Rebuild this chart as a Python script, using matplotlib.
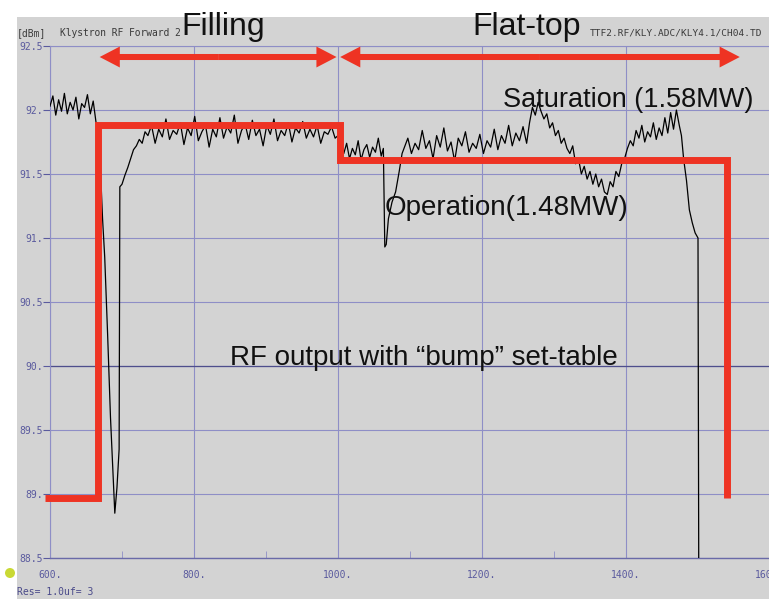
import numpy as np
import matplotlib
matplotlib.use('Agg')
import matplotlib.pyplot as plt
from matplotlib.patches import Rectangle, Ellipse, FancyArrowPatch

# ---------------------------------------------------------------
# trace (x in us, y in dBm)
pre_x = [600, 604, 608, 612, 616, 620, 624, 628, 632, 636, 640, 644, 648, 652, 656, 660, 664]
pre_y = [92.03, 92.11, 91.96, 92.08, 91.99, 92.13, 91.97, 92.06, 92.00, 92.10, 91.93, 92.05,
         92.02, 92.12, 91.97, 92.07, 91.90]

drop_x = [667, 670, 673, 676, 680, 684, 688, 690, 693, 696, 697, 700, 704, 708, 712, 716,
          720, 724, 728, 732]
drop_y = [91.88, 91.55, 91.15, 90.85, 90.25, 89.60, 89.10, 88.85, 89.05, 89.35, 91.40, 91.42,
          91.49, 91.55, 91.62, 91.69, 91.72, 91.77, 91.74, 91.83]

fill_x = [736, 741, 746, 751, 756, 761, 766, 771, 776, 781, 786, 791, 796, 801, 806, 811,
          816, 821, 826, 831, 836, 841, 846, 851, 856, 861, 866, 871, 876, 881, 886, 891,
          896, 901, 906, 911, 916, 921, 926, 931, 936, 941, 946, 951, 956, 961, 966, 971,
          976, 981, 986, 991, 996]
fill_y = [91.80, 91.88, 91.74, 91.85, 91.79, 91.93, 91.77, 91.84, 91.81, 91.90, 91.73, 91.86,
          91.80, 91.95, 91.76, 91.83, 91.88, 91.71, 91.85, 91.79, 91.94, 91.78, 91.87, 91.82,
          91.96, 91.74, 91.84, 91.89, 91.77, 91.92, 91.80, 91.85, 91.72, 91.88, 91.81, 91.93,
          91.76, 91.84, 91.80, 91.90, 91.75, 91.86, 91.82, 91.91, 91.78, 91.85, 91.79, 91.88,
          91.74, 91.83, 91.81, 91.87, 91.78]

flat_x = [1000, 1004, 1008, 1012, 1016, 1020, 1024, 1028, 1032, 1036, 1040, 1044, 1048, 1052,
          1056, 1060, 1063, 1065, 1067, 1070, 1075, 1080, 1085, 1089, 1093,
          1097, 1102, 1107, 1112, 1117, 1122, 1127, 1132, 1137, 1142, 1147, 1152, 1157, 1162,
          1167, 1172, 1177, 1182, 1187, 1192, 1197, 1202, 1207, 1212, 1217, 1222, 1227, 1232,
          1237, 1242, 1247, 1252, 1257, 1262]
flat_y = [91.80, 91.72, 91.66, 91.74, 91.62, 91.70, 91.65, 91.76, 91.61, 91.69, 91.73, 91.63,
          91.71, 91.67, 91.78, 91.64, 91.70, 90.93, 90.95, 91.15, 91.28, 91.36, 91.52, 91.66,
          91.72, 91.78, 91.66, 91.74, 91.69, 91.84, 91.70, 91.76, 91.62, 91.80, 91.71, 91.86,
          91.68, 91.75, 91.60, 91.78, 91.72, 91.83, 91.67, 91.74, 91.70, 91.81, 91.66, 91.76,
          91.71, 91.85, 91.69, 91.80, 91.74, 91.88, 91.72, 91.82, 91.76, 91.87, 91.74]

end_x = [1266, 1270, 1274, 1278, 1282, 1286, 1290, 1294, 1298, 1302, 1306, 1310, 1314, 1318,
         1322, 1326, 1330, 1334, 1338, 1342, 1346, 1350, 1354, 1358, 1362, 1366, 1370, 1374,
         1378, 1382, 1386, 1390, 1394, 1398, 1402, 1406, 1410, 1414, 1418, 1422, 1426, 1430,
         1434, 1438, 1442, 1446, 1450, 1454, 1458, 1462, 1466, 1470, 1474, 1477, 1480, 1484,
         1488, 1492, 1496, 1500, 1501]
end_y = [91.90, 92.02, 91.96, 92.06, 91.99, 91.93, 91.97, 91.86, 91.90, 91.80, 91.84, 91.74,
         91.78, 91.70, 91.66, 91.72, 91.58, 91.62, 91.50, 91.56, 91.46, 91.52, 91.42, 91.50,
         91.40, 91.46, 91.36, 91.34, 91.44, 91.40, 91.52, 91.48, 91.58, 91.62, 91.70, 91.76,
         91.72, 91.84, 91.78, 91.88, 91.75, 91.83, 91.79, 91.90, 91.77, 91.86, 91.80, 91.94,
         91.82, 91.98, 91.85, 92.00, 91.88, 91.80, 91.62, 91.45, 91.22, 91.12, 91.04, 91.00,
         88.50]

# red "bump" set-table overlay
step_x = [593, 667, 667, 1003, 1003, 1540, 1540]
step_y = [88.97, 88.97, 91.88, 91.88, 91.61, 91.61, 88.97]

# x / y ticks of the scope
xticks = [600, 800, 1000, 1200, 1400, 1600]
xtick_labels = ['600.', '800.', '1000.', '1200.', '1400.', '1600.']
yticks = [88.5, 89, 89.5, 90, 90.5, 91, 91.5, 92, 92.5]
ytick_labels = ['88.5', '89.', '89.5', '90.', '90.5', '91.', '91.5', '92.', '92.5']

W, H = 769, 599
gray = '#d3d3d3'
grid_col = '#8e8ec6'
tick_col = '#5a5a9e'
red = '#ee3323'

fig = plt.figure(figsize=(W / 100, H / 100), dpi=100)
fig.patch.set_facecolor('white')
# gray screen area of the screenshot (behind the axes)
fig.patches.append(Rectangle((17 / W, 0), 1, (H - 17) / H, transform=fig.transFigure,
                             facecolor=gray, edgecolor='none', zorder=-5))

ax = fig.add_axes([50 / W, (H - 558) / H, 720 / W, 512 / H])
ax.set_zorder(1)
ax.set_facecolor(gray)
ax.set_xlim(600, 1600)
ax.set_ylim(88.5, 92.5)

for s in ['top', 'left', 'right']:
    ax.spines[s].set_color(grid_col)
    ax.spines[s].set_linewidth(0.8)
ax.spines['right'].set_visible(False)
ax.spines['bottom'].set_color('#6a6aa8')
ax.spines['bottom'].set_linewidth(1.0)

ax.set_xticks(xticks)
ax.set_xticklabels(xtick_labels)
ax.set_yticks(yticks)
ax.set_yticklabels(ytick_labels)
ax.set_xticks([700, 900, 1100, 1300, 1500], minor=True)
ax.tick_params(axis='x', which='major', length=0, pad=9, colors=tick_col, labelsize=7)
ax.tick_params(axis='x', which='minor', direction='in', length=5, color=grid_col)
ax.tick_params(axis='y', which='major', length=5, pad=0, colors=tick_col, labelsize=7)
for lab in ax.get_xticklabels() + ax.get_yticklabels():
    lab.set_family('DejaVu Sans Mono')
    lab.set_color(tick_col)

ax.grid(True, color=grid_col, linewidth=0.8)
ax.set_axisbelow(True)
ax.axhline(90, color='#4e4e8c', linewidth=0.9, zorder=1)

# black klystron trace
tx = pre_x + drop_x + fill_x + flat_x + end_x
ty = pre_y + drop_y + fill_y + flat_y + end_y
ax.plot(tx, ty, color='black', linewidth=0.9, zorder=3)

# red set-table
ax.plot(step_x, step_y, color=red, linewidth=5, solid_joinstyle='miter',
        solid_capstyle='butt', zorder=4, clip_on=False)

# double arrows Filling / Flat-top
def double_arrow(x0, x1, y):
    xm = (x0 + x1) / 2
    for xe in (x0, x1):
        a = FancyArrowPatch((xm, y), (xe, y), arrowstyle='simple,head_length=0.5,head_width=0.52,tail_width=0.15',
                            mutation_scale=29, color=red, linewidth=0, shrinkA=0, shrinkB=0,
                            zorder=5, clip_on=False)
        ax.add_patch(a)

double_arrow(669, 998, 92.414)
double_arrow(1003, 1558, 92.414)

font = 'Liberation Sans'
ax.text(783, 92.586, 'Filling', fontsize=23, family=font, color='#111111',
        va='baseline', ha='left', clip_on=False, zorder=6)
ax.text(1186, 92.586, 'Flat-top', fontsize=23, family=font, color='#111111',
        va='baseline', ha='left', clip_on=False, zorder=6)
ax.text(1229, 92.023, 'Saturation (1.58MW)', fontsize=19.5, family=font, color='#111111',
        va='baseline', ha='left', zorder=6)
ax.text(1065, 91.18, 'Operation(1.48MW)', fontsize=20, family=font, color='#111111',
        va='baseline', ha='left', zorder=6)
ax.text(850, 90.008, 'RF output with \u201cbump\u201d set-table', fontsize=20, family=font,
        color='#111111', va='baseline', ha='left', zorder=6)

# scope header / footer text
fig.text(17 / W, 1 - 33 / H, '[dBm]', fontsize=7, family='DejaVu Sans Mono', color='#3a3a3a', va='center')
fig.text(60 / W, 1 - 33 / H, 'Klystron RF Forward 2', fontsize=6.9, family='DejaVu Sans Mono',
         color='#3a3a3a', va='center')
fig.text(590 / W, 1 - 33 / H, 'TTF2.RF/KLY.ADC/KLY4.1/CH04.TD', fontsize=6.8,
         family='DejaVu Sans Mono', color='#3a3a3a', va='center')
fig.text(17 / W, 1 - 592 / H, 'Res= 1.0uf= 3', fontsize=7, family='DejaVu Sans Mono',
         color='#4a4a8a', va='center')
fig.patches.append(Ellipse((10 / W, 1 - 573 / H), 10 / W, 10 / H, transform=fig.transFigure,
                           facecolor='#c9d934', edgecolor='none', zorder=2))

plt.savefig('out.png', dpi=100)
